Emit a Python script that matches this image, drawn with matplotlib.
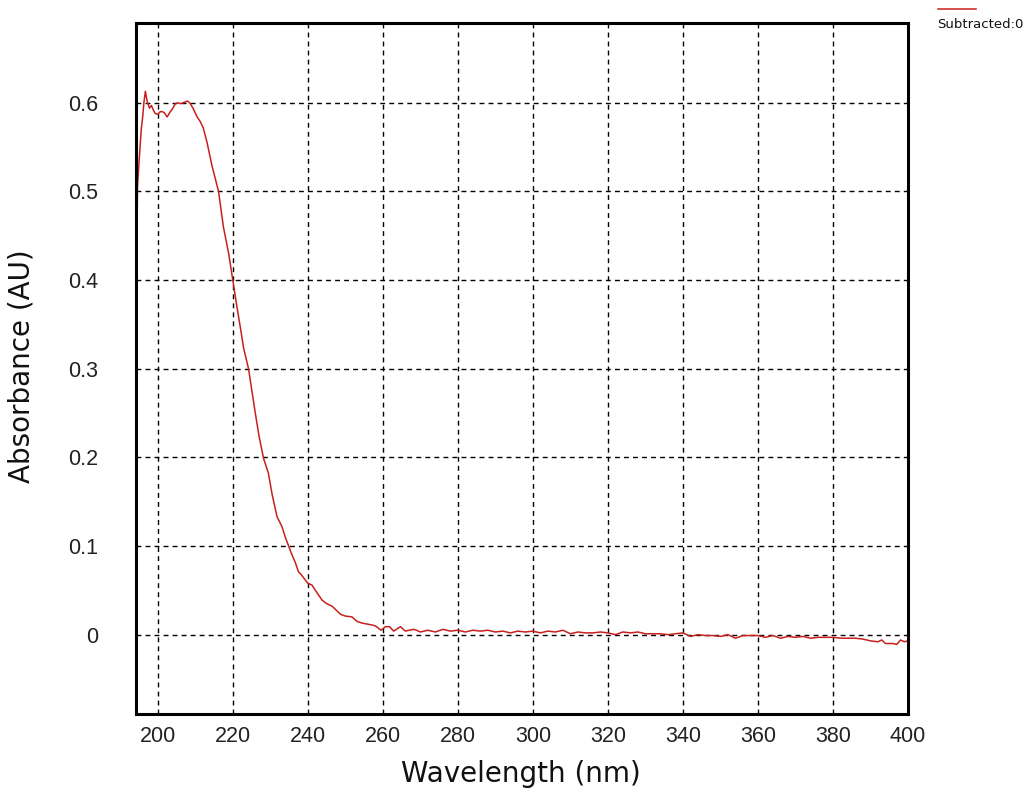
import matplotlib
matplotlib.use("Agg")
import matplotlib.pyplot as plt
from matplotlib.lines import Line2D

# ==== DATA ====
wavelength = [
    194.5, 194.6, 194.8, 195.2, 195.6, 196.0, 196.3, 196.7, 197.2, 197.8,
    198.3, 198.8, 199.3, 200.0, 200.7, 201.2, 201.7, 202.5, 203.2, 203.9,
    204.7, 205.4, 206.0, 206.8, 207.4, 207.9, 208.7, 209.5, 210.5, 211.3,
    212.1, 213.1, 214.4, 215.3, 216.2, 217.5, 218.9, 220.0, 221.1, 222.0,
    222.9, 224.2, 225.0, 226.0, 227.0, 228.2, 229.5, 230.5, 231.8, 233.1,
    234.0, 234.9, 235.6, 236.7, 237.5, 238.2, 239.3, 240.0, 241.1, 242.0,
    243.0, 243.8, 245.0, 246.5, 247.5, 248.7, 250.0, 251.8, 253.1, 254.5,
    255.8, 257.0, 258.0, 259.5, 260.7, 261.8, 262.9, 264.0, 264.7, 266.0,
    267.0, 268.2, 269.0, 270.0,
    272, 274, 276, 278, 280, 282, 284, 286, 288, 290,
    292, 294, 296, 298, 300, 302, 304, 306, 308, 310,
    312, 314, 316, 318, 320, 322, 324, 326, 328, 330,
    332, 334, 336, 338, 340, 342, 344, 346, 348, 350,
    352, 354, 356, 358, 360, 362, 364, 366, 368, 370,
    372, 374, 376, 378, 380, 382, 384, 386, 388, 390,
    392, 393, 394, 396, 397, 398, 399, 400,
]
absorbance = [
    0.468, 0.505, 0.520, 0.545, 0.570, 0.585, 0.600, 0.613, 0.601, 0.594,
    0.597, 0.592, 0.588, 0.587, 0.590, 0.590, 0.589, 0.584, 0.589, 0.593,
    0.599, 0.600, 0.599, 0.600, 0.601, 0.602, 0.599, 0.593, 0.584, 0.579,
    0.572, 0.556, 0.530, 0.515, 0.500, 0.460, 0.430, 0.400, 0.370, 0.347,
    0.323, 0.300, 0.278, 0.250, 0.224, 0.199, 0.182, 0.158, 0.133, 0.122,
    0.110, 0.100, 0.092, 0.081, 0.071, 0.068, 0.062, 0.058, 0.056, 0.050,
    0.044, 0.039, 0.035, 0.032, 0.028, 0.023, 0.021, 0.020, 0.015, 0.013,
    0.012, 0.011, 0.010, 0.005, 0.009, 0.009, 0.004, 0.007, 0.009, 0.004,
    0.005, 0.006, 0.005, 0.003,
    0.005, 0.003, 0.006, 0.004, 0.005, 0.003, 0.005, 0.004, 0.005, 0.003,
    0.004, 0.002, 0.004, 0.003, 0.004, 0.002, 0.004, 0.003, 0.005, 0.001,
    0.003, 0.002, 0.002, 0.003, 0.002, 0.000, 0.003, 0.002, 0.003, 0.001,
    0.001, 0.001, 0.000, 0.001, 0.002, -0.002, 0.000, -0.001, -0.001, -0.002,
    0.000, -0.004, -0.001, -0.001, -0.001, -0.003, -0.001, -0.004, -0.002, -0.003,
    -0.002, -0.004, -0.003, -0.003, -0.003, -0.004, -0.004, -0.004, -0.005, -0.007,
    -0.008, -0.006, -0.010, -0.010, -0.011, -0.006, -0.008, -0.007,
]

x_ticks = [200, 220, 240, 260, 280, 300, 320, 340, 360, 380, 400]
y_ticks = [0, 0.1, 0.2, 0.3, 0.4, 0.5, 0.6]
y_tick_labels = ["0", "0.1", "0.2", "0.3", "0.4", "0.5", "0.6"]
series_name = "Subtracted:0"

W, H = 1031, 791
RED = "#c8201e"

# ==== FIGURE ====
fig = plt.figure(figsize=(W / 100, H / 100), dpi=100)
ax = fig.add_axes([136 / W, 1 - 714 / H, (908 - 136) / W, (714 - 23) / H])

ax.plot(wavelength, absorbance, color=RED, lw=1.1)

ax.set_xlim(194.2, 400)
ax.set_ylim(-0.0895, 0.690)
ax.set_xticks(x_ticks)
ax.set_yticks(y_ticks)
ax.set_yticklabels(y_tick_labels)

ax.grid(True, color="black", linestyle=(0, (3.5, 3)), linewidth=1.0)
ax.tick_params(length=0, labelsize=15.5, labelcolor="#222222")
ax.tick_params(axis="x", pad=9)
ax.tick_params(axis="y", pad=27)
for lab in ax.get_xticklabels() + ax.get_yticklabels():
    lab.set_family("Liberation Sans")

for sp in ax.spines.values():
    sp.set_linewidth(2.2)
    sp.set_color("black")

# axis titles placed at the reference positions
fig.text(521 / W, 1 - 774 / H, "Wavelength (nm)", fontsize=20, family="DejaVu Sans",
         color="#111111", ha="center", va="center")
fig.text(22 / W, 1 - 366 / H, "Absorbance (AU)", fontsize=20, family="DejaVu Sans",
         color="#111111", ha="center", va="center", rotation=90)

# legend: short red line with the series name below it
fig.add_artist(Line2D([938 / W, 976 / W], [1 - 9 / H, 1 - 9 / H], color=RED, lw=1.1,
                      transform=fig.transFigure))
fig.text(937 / W, 1 - 24 / H, series_name, fontsize=9.5, family="DejaVu Sans",
         color="#111111", ha="left", va="center")

fig.savefig("out.png", dpi=100)
